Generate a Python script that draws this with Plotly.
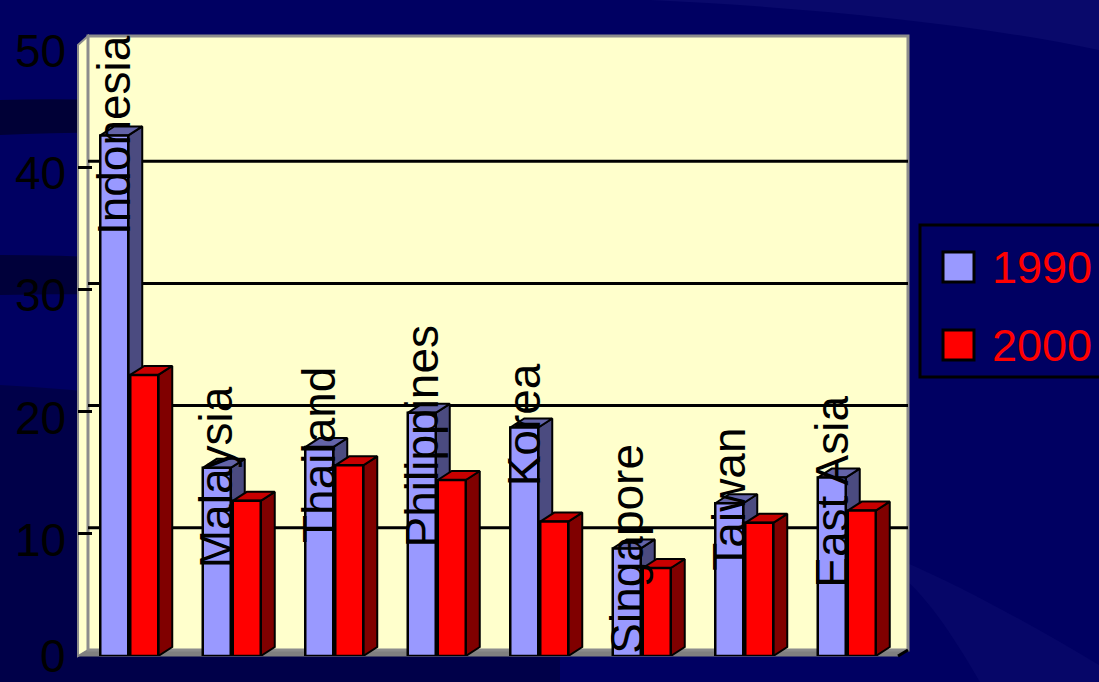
import plotly.graph_objects as go

categories = ["Indonesia", "Malaysia", "Thailand", "Philippines", "Korea", "Singapore", "Taiwan", "East Asia"]
series_names = ["1990", "2000"]
values_1990 = [42.6, 15.4, 17.1, 19.9, 18.7, 8.8, 12.5, 14.6]
values_2000 = [23.0, 12.7, 15.6, 14.4, 11.0, 7.2, 10.9, 11.9]
y_ticks = [0, 10, 20, 30, 40, 50]
y_tick_labels = ["0", "10", "20", "30", "40", "50"]

# layout-only helpers (label placement along the value axis)
label_base = [34.3, 7.0, 9.1, 8.7, 13.7, 0.0, 6.8, 5.4]
tick_label_shift = [0, -6, -6, -6, -6, -6]

W, H = 1099, 682
L, R, T, B = 78, 201, 45, 26
n = len(categories)
PW, PH = W - L - R, H - T - B
PX = n / PW          # data units per pixel (x)
PY = 50.0 / PH       # data units per pixel (y)

FONT = "Liberation Sans, Arial, sans-serif"
BG = "#000062"
BLUE, BLUE_SIDE, BLUE_TOP = "#9999FF", "#4B4B80", "#6464A8"
RED, RED_SIDE, RED_TOP = "#FF0000", "#800000", "#C80000"
bar_w = 28 * PX
offsets = [-29 * PX, 1 * PX]
bdx, bdy = 14 * PX, 9 * PY      # bar depth

fig = go.Figure()


def add_series(name, vals, off, front, side, top, z):
    sx, sy, tx, ty = [], [], [], []
    for i, v in enumerate(vals):
        l = i + off
        r = l + bar_w
        tx += [l, r, r + bdx, l + bdx, l, None]
        ty += [v, v, v + bdy, v + bdy, v, None]
        sx += [r, r, r + bdx, r + bdx, r, None]
        sy += [0, v, v + bdy, bdy, 0, None]
    fig.add_trace(go.Scatter(x=sx, y=sy, mode="lines", fill="toself", fillcolor=side,
                             line=dict(color="black", width=2), hoverinfo="skip",
                             showlegend=False, zorder=z, cliponaxis=False))
    fig.add_trace(go.Scatter(x=tx, y=ty, mode="lines", fill="toself", fillcolor=top,
                             line=dict(color="black", width=2), hoverinfo="skip",
                             showlegend=False, zorder=z, cliponaxis=False))
    fig.add_trace(go.Bar(x=list(range(n)), y=vals, name=name, width=bar_w, offset=off,
                         marker=dict(color=front, line=dict(color="black", width=2.5)),
                         showlegend=False, zorder=z + 1))


add_series(series_names[0], values_1990, offsets[0], BLUE, BLUE_SIDE, BLUE_TOP, 0)
add_series(series_names[1], values_2000, offsets[1], RED, RED_SIDE, RED_TOP, 2)


def pxp(px):
    return (px - L) / PW


def pyp(py):
    return (H - B - py) / PH


def ppath(p):
    toks = p.split()
    out, coord = [], []
    for t in toks:
        try:
            coord.append(float(t))
            if len(coord) == 2:
                out.append(f"{pxp(coord[0]):.5f}")
                out.append(f"{pyp(coord[1]):.5f}")
                coord = []
        except ValueError:
            out.append(t)
    return " ".join(out)


shapes = []
# background swooshes (pixel paths -> paper coords)
bg_paths = [
    ("M 0 100 C 150 95 320 112 520 150 L 520 170 C 320 135 150 128 0 135 Z", "rgba(0,0,25,0.6)"),
    ("M 0 255 C 150 255 330 272 520 310 L 520 330 C 330 298 150 292 0 295 Z", "rgba(0,0,25,0.55)"),
    ("M 0 385 C 200 395 380 435 560 485 L 560 682 L 0 682 Z", "rgba(0,0,30,0.35)"),
    ("M 650 0 C 820 8 980 25 1099 50 L 1099 0 Z", "rgba(30,30,130,0.3)"),
    ("M 900 560 C 970 590 1040 630 1099 665 L 1099 682 L 980 682 C 950 630 925 595 900 575 Z", "rgba(20,20,120,0.3)"),
]
for p, c in bg_paths:
    shapes.append(dict(type="path", xref="paper", yref="paper", path=ppath(p),
                       fillcolor=c, line=dict(width=0), layer="below"))

# 3-D walls (pixel geometry of the frame, paper coords so they are not clipped)
x0p, x1p, y0p, y1p = L, W - R, H - B, T     # front frame: 78..898, 656..45
wx, wy = 10, 6                               # wall depth in px
top_back = y1p - wy - 3
# left wall (yellow)
shapes.append(dict(type="path", xref="paper", yref="paper", layer="below",
                   path=ppath(f"M {x0p} {y0p} L {x0p} {y1p} L {x0p + wx} {top_back} L {x0p + wx} {y0p - wy} Z"),
                   fillcolor="#FFFFCC", line=dict(color="#8C8C8C", width=2)))
# floor
shapes.append(dict(type="path", xref="paper", yref="paper", layer="below",
                   path=ppath(f"M {x0p} {y0p} L {x1p} {y0p} L {x1p + wx} {y0p - wy} L {x0p + wx} {y0p - wy} Z"),
                   fillcolor="#808080", line=dict(color="#808080", width=1)))
# back wall
shapes.append(dict(type="rect", xref="paper", yref="paper", layer="below",
                   x0=pxp(x0p + wx), x1=pxp(x1p + wx), y0=pyp(y0p - wy), y1=pyp(top_back),
                   fillcolor="#FFFFCC", line=dict(color="#8C8C8C", width=3)))
# gridlines on back wall (value positions via the y scale)
for v in y_ticks[1:-1]:
    gy = y0p - v / PY - wy
    shapes.append(dict(type="line", xref="paper", yref="paper", layer="below",
                       x0=pxp(x0p + wx), x1=pxp(x1p + wx), y0=pyp(gy), y1=pyp(gy),
                       line=dict(color="black", width=3)))
# right-bottom diagonal of floor
shapes.append(dict(type="line", xref="paper", yref="paper", layer="below",
                   x0=pxp(x1p), y0=pyp(y0p), x1=pxp(x1p + wx), y1=pyp(y0p - wy),
                   line=dict(color="black", width=3)))

# legend box
shapes.append(dict(type="rect", xref="paper", yref="paper",
                   x0=pxp(920), x1=pxp(1112), y0=pyp(377), y1=pyp(225),
                   line=dict(color="black", width=3), fillcolor="rgba(0,0,0,0)"))
legend_cols = [BLUE, RED]
legend_y = [267, 345]
annotations = []
for name, col, cy in zip(series_names, legend_cols, legend_y):
    shapes.append(dict(type="rect", xref="paper", yref="paper",
                       x0=pxp(943), x1=pxp(974), y0=pyp(cy + 15), y1=pyp(cy - 15),
                       fillcolor=col, line=dict(color="black", width=3)))
    annotations.append(dict(xref="paper", yref="paper", x=pxp(990), y=pyp(cy),
                            xanchor="left", yanchor="middle", text=name, showarrow=False,
                            font=dict(family=FONT, size=45, color="#FF0000")))

# y tick labels (shifted slightly below their ticks, as in the original)
for v, t, s in zip(y_ticks, y_tick_labels, tick_label_shift):
    annotations.append(dict(xref="paper", yref="y", x=pxp(68), y=v, yshift=s,
                            xanchor="right", yanchor="middle", text=t, showarrow=False,
                            font=dict(family=FONT, size=46, color="black")))

# category labels (vertical, inside the plot)
for i, (c, yb) in enumerate(zip(categories, label_base)):
    annotations.append(dict(xref="x", yref="y", x=i - 15 * PX, y=yb, text=c,
                            textangle=-90, xanchor="center", yanchor="bottom",
                            showarrow=False,
                            font=dict(family=FONT, size=46, color="black")))

fig.update_layout(
    width=W, height=H,
    margin=dict(l=L, r=R, t=T, b=B, pad=0, autoexpand=False),
    paper_bgcolor=BG,
    plot_bgcolor="rgba(0,0,0,0)",
    barmode="overlay",
    showlegend=False,
    shapes=shapes,
    annotations=annotations,
    xaxis=dict(range=[-0.5, n - 0.5], showgrid=False, zeroline=False,
               showticklabels=False, ticks="", showline=True, linecolor="black",
               linewidth=4, fixedrange=True, automargin=False),
    yaxis=dict(range=[0, 50], tickvals=y_ticks, showgrid=False, zeroline=False,
               showline=True, linecolor="black", linewidth=3, showticklabels=False,
               ticks="inside", ticklen=14, tickwidth=3, tickcolor="black",
               fixedrange=True, automargin=False),
)

fig.write_html("out.html", config={"displayModeBar": False},
               post_script="document.body.style.margin='0';document.body.style.overflow='hidden';document.body.style.background='" + BG + "';")
